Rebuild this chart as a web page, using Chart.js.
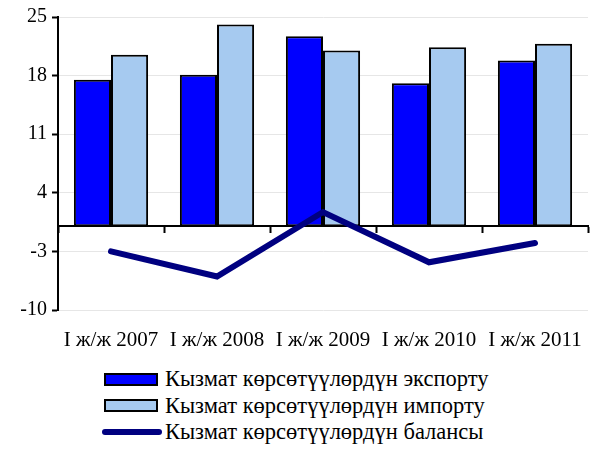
<!DOCTYPE html>
<html>
<head>
<meta charset="utf-8">
<script src="https://cdn.jsdelivr.net/npm/chart.js@4"></script>
<style>
  body { margin: 0; background: #fff; font-family: "Times New Roman", "Liberation Serif", "DejaVu Serif", serif; }
  #wrap { position: relative; width: 592px; height: 360px; }
  #legend { position: absolute; left: 102px; top: 366px; font-size: 22.5px; color: #000; }
  .row { height: 26.5px; display: flex; align-items: center; }
  .box { width: 50px; height: 9px; border: 2px solid #000; margin: 0 7px 0 2px; }
  .line { width: 60px; height: 6px; border-radius: 3px; margin-right: 3px; }
</style>
</head>
<body>
<div id="wrap"><canvas id="chart" width="592" height="360"></canvas></div>
<div id="legend"></div>
<script>
const categories = ["I ж/ж 2007", "I ж/ж 2008", "I ж/ж 2009", "I ж/ж 2010", "I ж/ж 2011"];
const exportValues = [17.5, 18.1, 22.7, 17.1, 19.8];
const importValues = [20.5, 24.1, 21.0, 21.4, 21.8];
const balanceValues = [-3.0, -6.0, 1.7, -4.3, -2.0];
const yTicks = [-10, -3, 4, 11, 18, 25];

const seriesNames = [
  "Кызмат көрсөтүүлөрдүн экспорту",
  "Кызмат көрсөтүүлөрдүн импорту",
  "Кызмат көрсөтүүлөрдүн балансы",
];
const colors = ["#0000FF", "#A6CAF0", "#000080"];

const font = { family: "'Times New Roman', 'Liberation Serif', 'DejaVu Serif', serif", size: 21 };

new Chart(document.getElementById("chart"), {
  data: {
    labels: categories,
    datasets: [
      {
        type: "line", label: seriesNames[2], data: balanceValues, order: 0,
        borderColor: colors[2], borderWidth: 6, borderCapStyle: "round",
        borderJoinStyle: "miter", pointRadius: 0, tension: 0,
      },
      {
        type: "bar", label: seriesNames[0], data: exportValues, order: 1,
        backgroundColor: colors[0], borderColor: "#000", borderWidth: 2,
        borderSkipped: false, categoryPercentage: 0.7, barPercentage: 1.0,
      },
      {
        type: "bar", label: seriesNames[1], data: importValues, order: 1,
        backgroundColor: colors[1], borderColor: "#000", borderWidth: 2,
        borderSkipped: false, categoryPercentage: 0.7, barPercentage: 1.0,
      },
    ],
  },
  options: {
    responsive: false,
    animation: false,
    devicePixelRatio: 1,
    layout: { padding: { top: 9, right: 4, left: 0, bottom: 8 } },
    plugins: { legend: { display: false }, tooltip: { enabled: false } },
    scales: {
      x: {
        grid: { display: false, drawTicks: false },
        border: { display: false },
        // fixed label band, and no extra side padding from the long labels
        afterFit: (scale) => {
          scale.height = 42;
          scale.paddingLeft = 0;
          scale.paddingRight = 0;
        },
        ticks: { color: "#000", font, maxRotation: 0, autoSkip: false, padding: 18 },
      },
      // axis line through zero with tick marks between categories
      x0: {
        type: "category",
        position: { y: 0 },
        offset: true,
        grid: { offset: true, drawOnChartArea: false, tickLength: 6, tickColor: "#000", tickWidth: 2 },
        border: { display: true, color: "#000", width: 2 },
        ticks: { display: false },
      },
      y: {
        min: -10, max: 25,
        afterBuildTicks: (scale) => { scale.ticks = yTicks.map((v) => ({ value: v })); },
        afterFit: (scale) => { scale.width = 58; },
        grid: { color: "#e6e6e6", tickColor: "#000", tickLength: 6, tickWidth: 2 },
        border: { display: true, color: "#000", width: 2 },
        ticks: { color: "#000", font: { ...font, size: 20 }, padding: 5 },
      },
    },
  },
});

// legend rows, one per series
const legend = document.getElementById("legend");
seriesNames.forEach((name, i) => {
  const row = document.createElement("div");
  row.className = "row";
  const mark = document.createElement("span");
  mark.className = i === 2 ? "line" : "box";
  mark.style.background = colors[i];
  row.appendChild(mark);
  row.appendChild(document.createTextNode(name));
  legend.appendChild(row);
});
</script>
</body>
</html>
